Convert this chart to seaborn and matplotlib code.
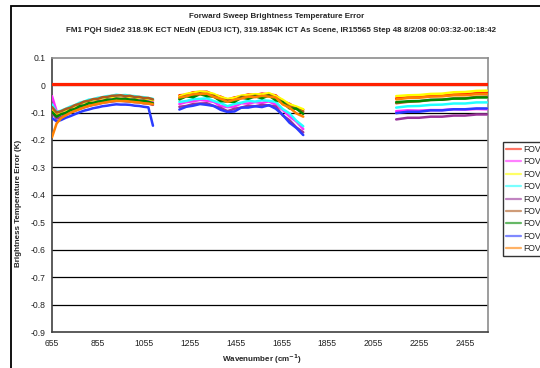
import matplotlib
matplotlib.use("Agg")
import matplotlib.pyplot as plt
import seaborn as sns
import pandas as pd
from matplotlib.lines import Line2D
from matplotlib.patches import Rectangle

sns.set_style("white")
plt.rcParams['font.family'] = ['Liberation Sans', 'DejaVu Sans']
plt.rcParams['mathtext.default'] = 'regular'

# ---------------- data (brightness temperature error, mK) ----------------
fovs = ["FOV1", "FOV2", "FOV3", "FOV4", "FOV5", "FOV6", "FOV7", "FOV8", "FOV9"]
colors = ["#FF1A00", "#FF2BFF", "#FFFF00", "#22FFFF", "#993399",
          "#B05A1E", "#008A00", "#2B3BFF", "#FF8000"]

lw_x = [655, 675, 695, 715, 735, 755, 775, 795, 815, 835, 855, 875,
        895, 915, 935, 955, 975, 995, 1015, 1035, 1055, 1075, 1095]
mw_x = [1210, 1240, 1270, 1300, 1330, 1360, 1390, 1420, 1450, 1480,
        1510, 1540, 1570, 1600, 1630, 1660, 1690, 1720, 1750]
sw_x = [2155, 2205, 2255, 2305, 2355, 2405, 2455, 2505, 2550]

lw_fov1 = [-88, -105, -99, -92, -86, -78, -71, -65, -61, -56, -53, -49, -47, -44, -42, -43, -43, -44, -47, -48, -50, -52, -56]
lw_fov2 = [-40, -95, -104, -98, -90, -84, -76, -71, -65, -62, -58, -55, -52, -50, -48, -48, -49, -50, -52, -54, -56, -58, -62]
lw_fov3 = [-85, -103, -97, -91, -82, -77, -68, -64, -58, -55, -50, -48, -44, -43, -40, -41, -40, -43, -44, -46, -48, -50, -55]
lw_fov4 = [-70, -98, -93, -86, -78, -73, -64, -60, -53, -51, -46, -44, -40, -39, -35, -37, -36, -39, -40, -43, -44, -47, -50]
lw_fov5 = [-100, -122, -116, -108, -100, -94, -86, -81, -76, -71, -69, -64, -62, -60, -58, -57, -59, -60, -62, -63, -66, -67, -72]
lw_fov6 = [-80, -100, -95, -87, -82, -73, -68, -60, -57, -51, -50, -44, -43, -39, -38, -37, -40, -39, -43, -43, -47, -47, -52]
lw_fov7 = [-98, -115, -106, -101, -91, -87, -77, -74, -66, -65, -60, -58, -53, -53, -49, -51, -50, -53, -53, -57, -57, -61, -66]
lw_fov8 = [-120, -132, -127, -119, -113, -106, -99, -93, -89, -84, -81, -77, -75, -72, -70, -71, -71, -72, -75, -76, -79, -81, -148]
lw_fov9 = [-190, -140, -120, -110, -101, -94, -88, -81, -76, -72, -68, -65, -62, -59, -57, -58, -58, -60, -62, -63, -66, -67, -70]

mw_fov1 = [-37, -35, -26, -25, -24, -35, -42, -53, -45, -41, -34, -36, -31, -34, -37, -59, -68, -84, -90]
mw_fov2 = [-69, -62, -59, -54, -57, -61, -76, -80, -78, -66, -67, -62, -65, -59, -71, -90, -114, -133, -160]
mw_fov3 = [-41, -32, -28, -23, -26, -32, -44, -50, -47, -38, -36, -33, -34, -29, -40, -53, -70, -78, -88]
mw_fov4 = [-61, -58, -51, -50, -48, -58, -65, -77, -68, -64, -57, -60, -55, -57, -61, -87, -103, -130, -150]
mw_fov5 = [-79, -76, -69, -67, -66, -76, -83, -95, -86, -82, -75, -77, -72, -74, -78, -110, -128, -154, -172]
mw_fov6 = [-47, -39, -36, -30, -34, -39, -52, -56, -55, -43, -44, -39, -42, -36, -47, -62, -78, -86, -97]
mw_fov7 = [-52, -41, -44, -33, -40, -42, -58, -60, -61, -46, -50, -41, -48, -38, -55, -62, -85, -86, -105]
mw_fov8 = [-89, -79, -75, -69, -72, -76, -90, -98, -96, -82, -82, -77, -80, -73, -86, -108, -137, -156, -182]
mw_fov9 = [-45, -41, -33, -33, -31, -43, -50, -61, -53, -49, -42, -44, -39, -42, -45, -70, -82, -103, -115]

sw_fov1 = [-48, -44, -43, -39, -38, -34, -33, -29, -28]
sw_fov2 = [-95, -92, -93, -91, -91, -88, -89, -87, -88]
sw_fov3 = [-40, -37, -36, -32, -31, -26, -25, -21, -20]
sw_fov4 = [-82, -77, -76, -72, -71, -67, -67, -63, -63]
sw_fov5 = [-125, -119, -119, -115, -115, -111, -111, -107, -107]
sw_fov6 = [-66, -61, -59, -54, -53, -49, -48, -43, -42]
sw_fov7 = [-62, -59, -58, -54, -53, -49, -49, -45, -45]
sw_fov8 = [-102, -97, -97, -92, -92, -88, -88, -85, -85]
sw_fov9 = [-52, -47, -46, -42, -41, -37, -37, -33, -32]

lw_vals = [lw_fov1, lw_fov2, lw_fov3, lw_fov4, lw_fov5, lw_fov6, lw_fov7, lw_fov8, lw_fov9]
mw_vals = [mw_fov1, mw_fov2, mw_fov3, mw_fov4, mw_fov5, mw_fov6, mw_fov7, mw_fov8, mw_fov9]
sw_vals = [sw_fov1, sw_fov2, sw_fov3, sw_fov4, sw_fov5, sw_fov6, sw_fov7, sw_fov8, sw_fov9]

xticks = [655, 855, 1055, 1255, 1455, 1655, 1855, 2055, 2255, 2455]
yticks = [0.1, 0.0, -0.1, -0.2, -0.3, -0.4, -0.5, -0.6, -0.7, -0.8, -0.9]
ytick_labels = ["0.1", "0", "-0.1", "-0.2", "-0.3", "-0.4", "-0.5", "-0.6", "-0.7", "-0.8", "-0.9"]

rows = []
for band, xs, vals in (("LW", lw_x, lw_vals), ("MW", mw_x, mw_vals), ("SW", sw_x, sw_vals)):
    for name, v in zip(fovs, vals):
        for x, y in zip(xs, v):
            rows.append({"wn": x, "err": y / 1000.0, "fov": name, "band": band})
df = pd.DataFrame(rows)

# ---------------- figure ----------------
W, H = 540, 368
fig = plt.figure(figsize=(W / 100, H / 100), dpi=100)
fig.patch.set_facecolor("white")

L, R, T, B = 52, 487.5, 57.7, 332
ax = fig.add_axes([L / W, 1 - B / H, (R - L) / W, (B - T) / H])

# gridlines
for yv in yticks[2:-1]:
    ax.axhline(yv, color="black", lw=0.9, zorder=1)
ax.axhline(0.0, color="#808080", lw=1.0, zorder=1)

sns.lineplot(data=df, x="wn", y="err", hue="fov", units="band", estimator=None,
             palette=dict(zip(fovs, colors)), hue_order=fovs, lw=1.8,
             legend=False, ax=ax, zorder=3, sort=False)

ax.axhline(0.004, color="#FF2000", lw=2.3, zorder=4)

ax.set_xlim(655, 2553)
ax.set_ylim(-0.9, 0.1)
ax.set_xticks(xticks)
ax.set_xticklabels([str(t) for t in xticks], fontsize=6.2, color="#222222")
ax.set_yticks(yticks)
ax.set_yticklabels(ytick_labels, fontsize=6.2, color="#222222")
ax.tick_params(axis="y", direction="out", length=3, width=0.8, pad=1.5, colors="#333333", labelcolor="#222222")
ax.tick_params(axis="x", direction="inout", length=4, width=0.8, pad=3, colors="#333333", labelcolor="#222222")

for s in ("top", "right"):
    ax.spines[s].set_color("#8C8C8C")
    ax.spines[s].set_linewidth(1.2)
for s in ("left", "bottom"):
    ax.spines[s].set_color("#404040")
    ax.spines[s].set_linewidth(1.2)

ax.set_xlabel(r"Wavenumber (cm$^{\mathbf{-1}}$)", fontsize=5.8, fontweight="bold", labelpad=3)
ax.set_ylabel("Brightness Temperature Error (K)", fontsize=5.8, fontweight="bold", labelpad=4)
ax.xaxis.set_label_coords((262 - L) / (R - L), -(352 - B) / (B - T))
ax.yaxis.set_label_coords(-(L - 22) / (R - L), 0.47)

fig.text(277 / W, 1 - 16.5 / H, "Forward Sweep Brightness Temperature Error",
         ha="center", va="center", fontsize=5.8, fontweight="bold")
fig.text(281 / W, 1 - 30 / H,
         "FM1 PQH Side2 318.9K ECT NEdN (EDU3 ICT), 319.1854K ICT As Scene, IR15565 Step 48 8/2/08 00:03:32-00:18:42",
         ha="center", va="center", fontsize=5.8, fontweight="bold")

# legend (cut at the right edge like the reference)
handles = [Line2D([0], [0], color=c, lw=1.6, alpha=0.6) for c in colors]
leg = fig.legend(handles, fovs, loc="upper left", bbox_to_anchor=(503 / W, 1 - 142 / H),
                 fontsize=6.2, frameon=True, fancybox=False, edgecolor="black",
                 handlelength=1.8, handletextpad=0.2, labelspacing=0.4,
                 borderpad=0.32, borderaxespad=0)
leg.get_frame().set_linewidth(1.0)

# chart-area frame
fig.add_artist(Rectangle((11 / W, -0.2), 2.0, 1.2 - 6 / H, transform=fig.transFigure,
                         fill=False, edgecolor="black", lw=1.3, clip_on=False))

fig.savefig("out.png", dpi=100, facecolor="white")
